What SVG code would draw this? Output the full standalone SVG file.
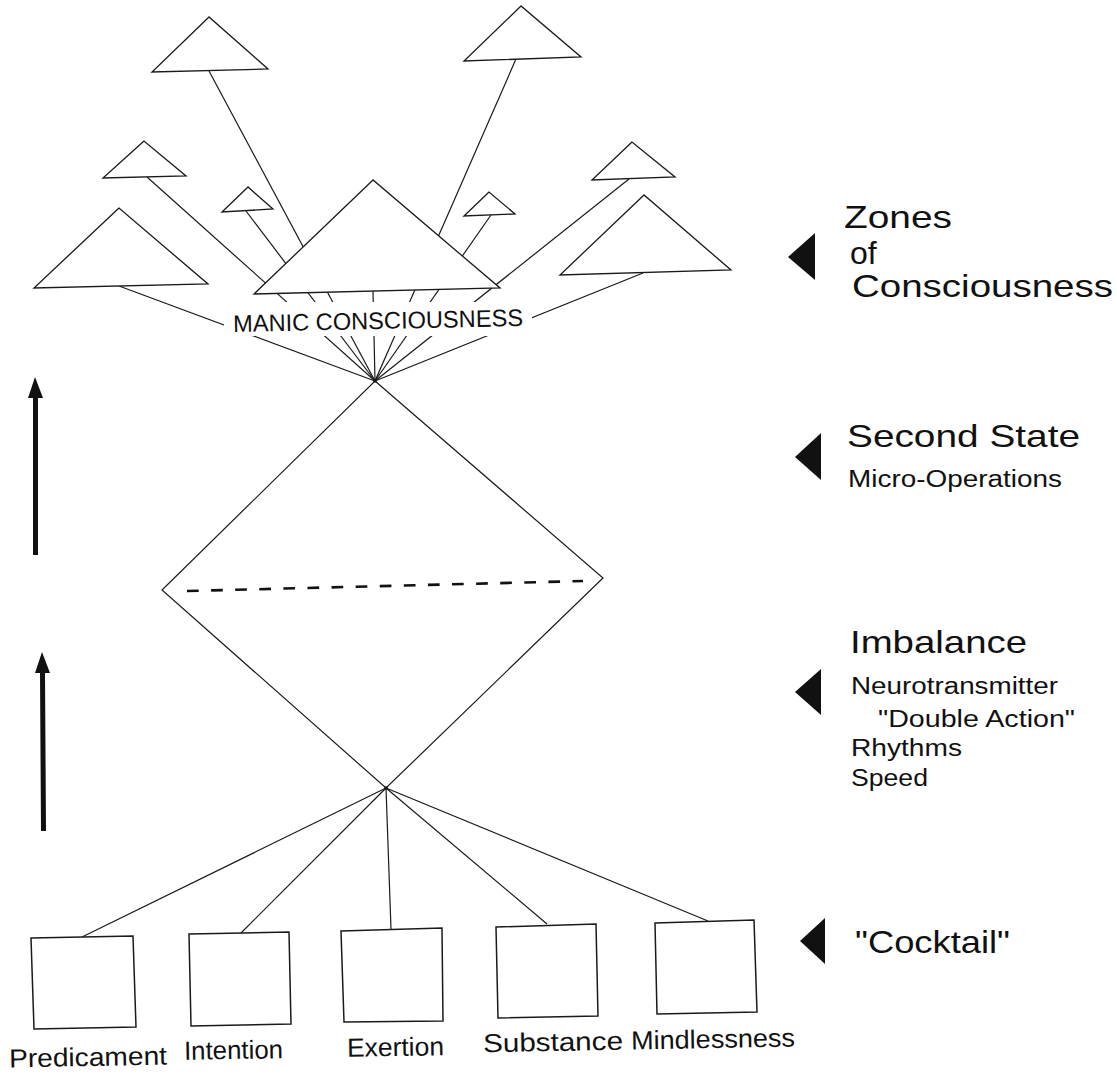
<svg xmlns="http://www.w3.org/2000/svg" width="1117" height="1076" viewBox="0 0 1117 1076">
<style>
  .ln { stroke:#1a1a1a; stroke-width:1.2; fill:none; }
  .tri { stroke:#1a1a1a; stroke-width:1.3; fill:#fff; stroke-linejoin:miter; }
  .box { stroke:#1a1a1a; stroke-width:1.5; fill:#fff; }
  .dash { stroke:#111; stroke-width:2.6; stroke-dasharray:11.7 12.4; fill:none; }
  .ptr { fill:#111; }
  .big { font-family:"Liberation Sans", Arial, sans-serif; font-size:32px; fill:#111; }
  .mid { font-family:"Liberation Sans", Arial, sans-serif; font-size:23px; fill:#111; }
  .lab { font-family:"Liberation Sans", Arial, sans-serif; font-size:26px; fill:#111; }
  .manic { font-family:"Liberation Sans", Arial, sans-serif; font-size:24px; fill:#111; }
</style>
<rect width="1117" height="1076" fill="#fff"/>

<g id="connectors">
  <!-- upper fan to focal point -->
  <line class="ln" x1="119" y1="286" x2="375" y2="381"/>
  <line class="ln" x1="147" y1="177" x2="375" y2="381"/>
  <line class="ln" x1="246" y1="211" x2="375" y2="381"/>
  <line class="ln" x1="209" y1="71" x2="375" y2="381"/>
  <line class="ln" x1="373" y1="291" x2="375" y2="381"/>
  <line class="ln" x1="516" y1="59" x2="375" y2="381"/>
  <line class="ln" x1="491" y1="215" x2="375" y2="381"/>
  <line class="ln" x1="629" y1="179" x2="375" y2="381"/>
  <line class="ln" x1="643" y1="273" x2="375" y2="381"/>
  <!-- lower fan to boxes -->
  <line class="ln" x1="386" y1="788" x2="82" y2="937"/>
  <line class="ln" x1="386" y1="788" x2="241" y2="933"/>
  <line class="ln" x1="386" y1="788" x2="391" y2="929"/>
  <line class="ln" x1="386" y1="788" x2="547" y2="924"/>
  <line class="ln" x1="386" y1="788" x2="708" y2="921"/>
</g>

<g id="satellite-t1"><polygon class="tri" points="209,17 152,72 268,69"/></g>
<g id="satellite-t2"><polygon class="tri" points="521,6 464,61 581,57"/></g>
<g id="satellite-t3"><polygon class="tri" points="144,141 103,178 186,176"/></g>
<g id="satellite-t4"><polygon class="tri" points="119,208 34,288 208,284"/></g>
<g id="satellite-t5"><polygon class="tri" points="632,142 592,180 675,177"/></g>
<g id="satellite-t6"><polygon class="tri" points="644,195 560,275 731,270"/></g>
<g id="satellite-t7"><polygon class="tri" points="248,187 222,212 273,209"/></g>
<g id="satellite-t8"><polygon class="tri" points="489,192 464,216 515,214"/></g>
<g id="manic-triangle"><polygon class="tri" points="373,180 254,294 500,288"/></g>

<g id="manic-label">
  <rect x="224" y="302" width="308" height="34" fill="#fff"/>
  <text class="manic" x="233" y="329" textLength="290" lengthAdjust="spacingAndGlyphs" transform="rotate(-1.2 378 320)">MANIC CONSCIOUSNESS</text>
</g>

<g id="focal-top"><circle cx="375" cy="381" r="1.8" fill="#111"/></g>

<g id="diamond">
  <polygon class="ln" points="375,381 603,578 386,788 162,590"/>
  <line class="dash" x1="187" y1="591" x2="583" y2="581"/>
  <circle cx="386" cy="788" r="1.8" fill="#111"/>
</g>

<g id="box-predicament">
  <polygon class="box" points="31,938 133,936 136,1027 34,1029"/>
  <text class="lab" x="9" y="1066" textLength="158" lengthAdjust="spacingAndGlyphs" transform="rotate(-1 88 1058)">Predicament</text>
</g>
<g id="box-intention">
  <polygon class="box" points="189,934 289,932 291,1024 191,1026"/>
  <text class="lab" x="184" y="1059" textLength="99" lengthAdjust="spacingAndGlyphs" transform="rotate(-1 233 1051)">Intention</text>
</g>
<g id="box-exertion">
  <polygon class="box" points="341,931 442,928 443,1021 344,1022"/>
  <text class="lab" x="347" y="1056" textLength="97" lengthAdjust="spacingAndGlyphs" transform="rotate(-1 395 1048)">Exertion</text>
</g>
<g id="box-substance">
  <polygon class="box" points="496,927 596,924 598,1016 498,1018"/>
  <text class="lab" x="483" y="1051" textLength="140" lengthAdjust="spacingAndGlyphs" transform="rotate(-1 553 1043)">Substance</text>
</g>
<g id="box-mindlessness">
  <polygon class="box" points="655,923 754,920 757,1012 657,1014"/>
  <text class="lab" x="631" y="1048" textLength="164" lengthAdjust="spacingAndGlyphs" transform="rotate(-1 713 1040)">Mindlessness</text>
</g>

<g id="left-arrows">
  <polygon class="ptr" points="35,377 28,398 33,398 33,555 38,555 38,398 43,398"/>
  <polygon class="ptr" points="42,652 35,673 40,673 41,831 46,831 45,673 50,673"/>
</g>

<g id="legend-zones">
  <polygon class="ptr" points="788,257 815,233 815,280"/>
  <text class="big" x="844" y="228" font-size="33" textLength="108" lengthAdjust="spacingAndGlyphs">Zones</text>
  <text class="big" x="850" y="264" font-size="33">of</text>
  <text class="big" x="852" y="297" font-size="33" textLength="261" lengthAdjust="spacingAndGlyphs">Consciousness</text>
</g>
<g id="legend-second-state">
  <polygon class="ptr" points="795,457 821,433 821,480"/>
  <text class="big" x="847" y="447" textLength="233" lengthAdjust="spacingAndGlyphs">Second State</text>
  <text class="mid" x="848" y="487" textLength="214" lengthAdjust="spacingAndGlyphs">Micro-Operations</text>
</g>
<g id="legend-imbalance">
  <polygon class="ptr" points="795,692 821,669 821,715"/>
  <text class="big" x="850" y="653" textLength="177" lengthAdjust="spacingAndGlyphs">Imbalance</text>
  <text class="mid" x="851" y="694" textLength="207" lengthAdjust="spacingAndGlyphs">Neurotransmitter</text>
  <text class="mid" x="878" y="727" textLength="197" lengthAdjust="spacingAndGlyphs">"Double Action"</text>
  <text class="mid" x="851" y="756" textLength="111" lengthAdjust="spacingAndGlyphs">Rhythms</text>
  <text class="mid" x="851" y="786" textLength="77" lengthAdjust="spacingAndGlyphs">Speed</text>
</g>
<g id="legend-cocktail">
  <polygon class="ptr" points="800,941 825,918 825,964"/>
  <text class="big" x="855" y="953" font-size="33" textLength="155" lengthAdjust="spacingAndGlyphs">"Cocktail"</text>
</g>
</svg>
